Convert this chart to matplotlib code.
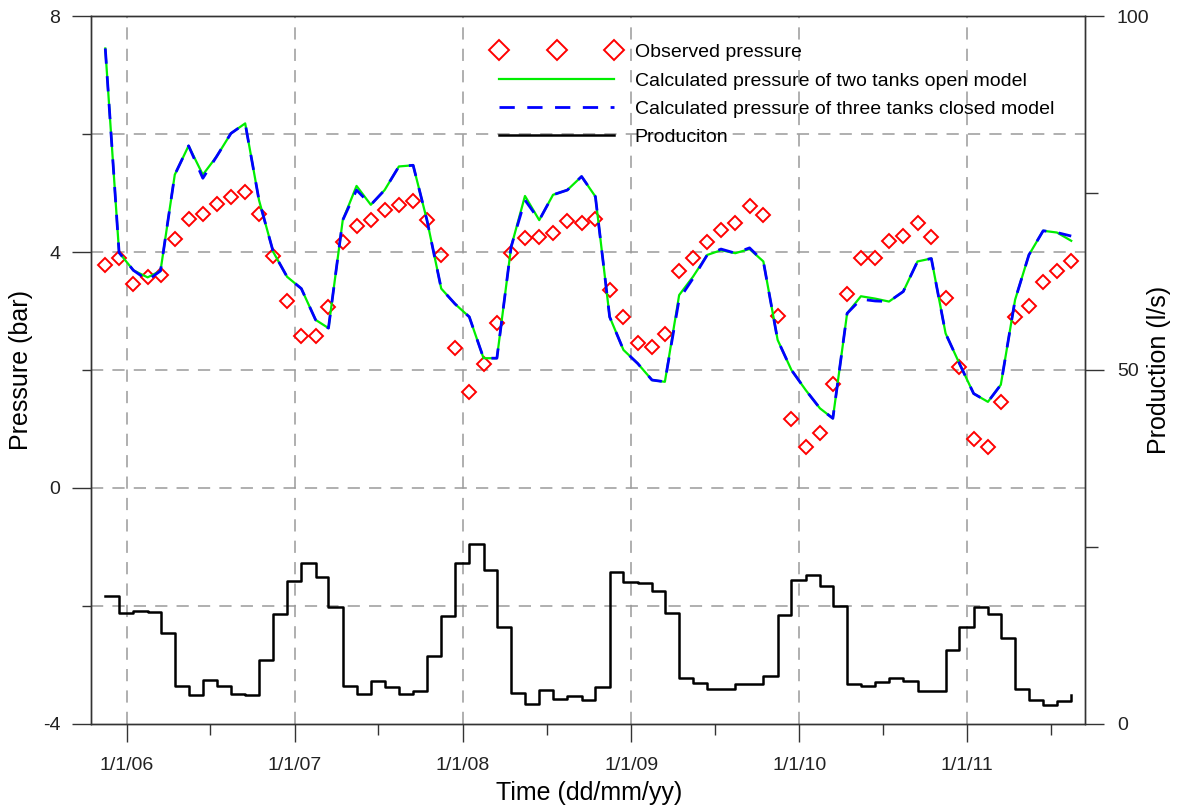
import numpy as np
import pandas as pd
import matplotlib
matplotlib.use("Agg")
import matplotlib.pyplot as plt
import matplotlib.dates as mdates
from matplotlib.ticker import FixedLocator, FuncFormatter

plt.rcParams['font.family'] = ['Liberation Sans', 'DejaVu Sans']
plt.rcParams['axes.unicode_minus'] = False

# monthly samples, plotted at mid-month (Nov 2005 .. Aug 2011)
months = pd.date_range('2005-11-01', periods=70, freq='MS') + pd.Timedelta(days=14)

observed = [3.78, 3.90, 3.45, 3.58, 3.61, 4.22, 4.56, 4.64, 4.81, 4.93,
            5.01, 4.64, 3.93, 3.17, 2.58, 2.58, 3.07, 4.17, 4.44, 4.54,
            4.71, 4.80, 4.87, 4.55, 3.95, 2.38, 1.62, 2.10, 2.80, 3.98,
            4.23, 4.26, 4.33, 4.53, 4.50, 4.56, 3.36, 2.90, 2.46, 2.39,
            2.61, 3.68, 3.89, 4.17, 4.37, 4.49, 4.78, 4.63, 2.92, 1.17,
            0.70, 0.94, 1.76, 3.28, 3.89, 3.89, 4.19, 4.27, 4.49, 4.26,
            3.22, 2.05, 0.83, 0.70, 1.46, 2.90, 3.08, 3.50, 3.68, 3.84]

two_tanks_open = [7.45, 3.99, 3.69, 3.57, 3.68, 5.31, 5.80, 5.31, 5.62, 6.01,
                  6.18, 4.88, 4.00, 3.58, 3.38, 2.85, 2.71, 4.54, 5.12, 4.80,
                  5.05, 5.45, 5.47, 4.54, 3.38, 3.12, 2.90, 2.20, 2.20, 4.09,
                  4.95, 4.54, 4.97, 5.05, 5.28, 4.94, 2.90, 2.34, 2.11, 1.83,
                  1.80, 3.27, 3.58, 3.95, 4.03, 3.98, 4.05, 3.84, 2.51, 2.00,
                  1.66, 1.35, 1.18, 2.96, 3.25, 3.21, 3.16, 3.33, 3.84, 3.89,
                  2.62, 2.11, 1.60, 1.46, 1.75, 3.19, 3.95, 4.36, 4.33, 4.19]

three_tanks_closed = [7.45, 3.99, 3.69, 3.52, 3.68, 5.31, 5.80, 5.25, 5.62, 6.01,
                      6.18, 4.88, 4.00, 3.58, 3.38, 2.85, 2.71, 4.54, 5.05, 4.80,
                      5.05, 5.45, 5.47, 4.54, 3.38, 3.12, 2.90, 2.20, 2.20, 4.09,
                      4.88, 4.54, 4.97, 5.05, 5.28, 4.94, 2.90, 2.34, 2.11, 1.83,
                      1.80, 3.20, 3.55, 3.95, 4.05, 3.98, 4.07, 3.84, 2.51, 2.00,
                      1.66, 1.35, 1.18, 2.96, 3.20, 3.17, 3.16, 3.33, 3.84, 3.89,
                      2.62, 2.11, 1.60, 1.46, 1.75, 3.19, 3.95, 4.36, 4.33, 4.27]

production = [18.1, 15.7, 16.0, 15.8, 12.8, 5.3, 4.1, 6.2, 5.3, 4.3,
              4.1, 9.0, 15.5, 20.2, 22.7, 20.7, 16.5, 5.4, 4.3, 6.0,
              5.2, 4.2, 4.6, 9.6, 15.3, 22.7, 25.4, 21.8, 13.7, 4.4,
              2.8, 4.8, 3.5, 3.9, 3.4, 5.2, 21.4, 20.1, 19.9, 18.8,
              15.7, 6.5, 5.8, 4.9, 4.9, 5.7, 5.7, 6.8, 15.4, 20.3,
              21.1, 19.5, 16.7, 5.6, 5.4, 5.9, 6.5, 6.1, 4.6, 4.6,
              10.4, 13.7, 16.5, 15.5, 12.1, 4.9, 3.4, 2.7, 3.2, 4.1]

fig = plt.figure(figsize=(11.79, 8.09), dpi=100)
ax = fig.add_axes([0.0772, 0.1051, 0.8431, 0.8751])
ax2 = ax.twinx()

grid_kw = dict(color='#9a9a9a', lw=1.1, dashes=(8, 6))
for yr in range(2006, 2012):
    ax.axvline(pd.Timestamp(f'{yr}-01-01'), zorder=0, **grid_kw)
for yv in [-2, 0, 2, 4, 6]:
    ax.axhline(yv, zorder=0, **grid_kw)

h_obs, = ax.plot(months, observed, ls='none', marker='D', ms=7.2, mfc='none',
                 mec='#ff0000', mew=1.4, label='Observed pressure')
h_two, = ax.plot(months, two_tanks_open, color='#00ee00', lw=1.6,
                 label='Calculated pressure of two tanks open model')
h_three, = ax.plot(months, three_tanks_closed, color='#0000ff', lw=2.0, dashes=(5.5, 4.5),
                   label='Calculated pressure of three tanks closed model')
h_prod, = ax2.plot(months, production, color='black', lw=1.8, drawstyle='steps-post',
                   label='Produciton')

ax.set_xlim(pd.Timestamp('2005-10-15'), pd.Timestamp('2011-09-14'))
ax.set_ylim(-4, 8)
ax2.set_ylim(0, 100)

ax.xaxis.set_major_locator(mdates.MonthLocator(bymonth=1, bymonthday=1))
ax.xaxis.set_minor_locator(mdates.MonthLocator(bymonth=7, bymonthday=1))
ax.xaxis.set_major_formatter(FuncFormatter(
    lambda v, p: '{d.month}/{d.day}/{d:%y}'.format(d=mdates.num2date(v))))

ax.yaxis.set_major_locator(FixedLocator([-4, 0, 4, 8]))
ax.yaxis.set_minor_locator(FixedLocator([-2, 2, 6]))
ax2.yaxis.set_major_locator(FixedLocator([0, 50, 100]))
ax2.yaxis.set_minor_locator(FixedLocator([25, 75]))

tick_color = '#222222'
ax.tick_params(axis='both', which='major', direction='out', length=14, width=1,
               labelsize=14, pad=8, colors='#333333', labelcolor=tick_color)
ax.tick_params(axis='x', which='major', length=13, pad=11)
ax.tick_params(axis='y', which='minor', direction='out', length=6.5, width=1, colors='#333333')
ax.tick_params(axis='x', which='minor', direction='out', length=8, width=1, colors='#333333')
ax2.tick_params(axis='y', which='major', direction='out', length=14, width=1,
                labelsize=14, pad=9, colors='#333333', labelcolor=tick_color)
ax2.tick_params(axis='y', which='minor', direction='out', length=9.5, width=1, colors='#333333')

for a in (ax, ax2):
    for s in a.spines.values():
        s.set_color('#333333')
        s.set_linewidth(1.0)

ax.set_xlabel('Time (dd/mm/yy)', fontsize=18)
ax.set_ylabel('Pressure (bar)', fontsize=18)
ax2.set_ylabel('Production (l/s)', fontsize=18)
ax.xaxis.set_label_coords(0.501, -0.0975)
ax.yaxis.set_label_coords(-0.0704, 0.5)
ax2.yaxis.set_label_coords(1.0744, 0.5)
ax.xaxis.label.set_va('center')
ax.yaxis.label.set_va('center')
ax2.yaxis.label.set_va('center')

ax.legend(handles=[h_obs, h_two, h_three, h_prod], loc='upper left',
          bbox_to_anchor=(0.405, 0.961), frameon=False, fontsize=14, numpoints=3,
          handlelength=6.5, handletextpad=0.75, labelspacing=0.55, borderpad=0,
          borderaxespad=0, markerscale=1.4)

fig.savefig('out.png', dpi=100)
